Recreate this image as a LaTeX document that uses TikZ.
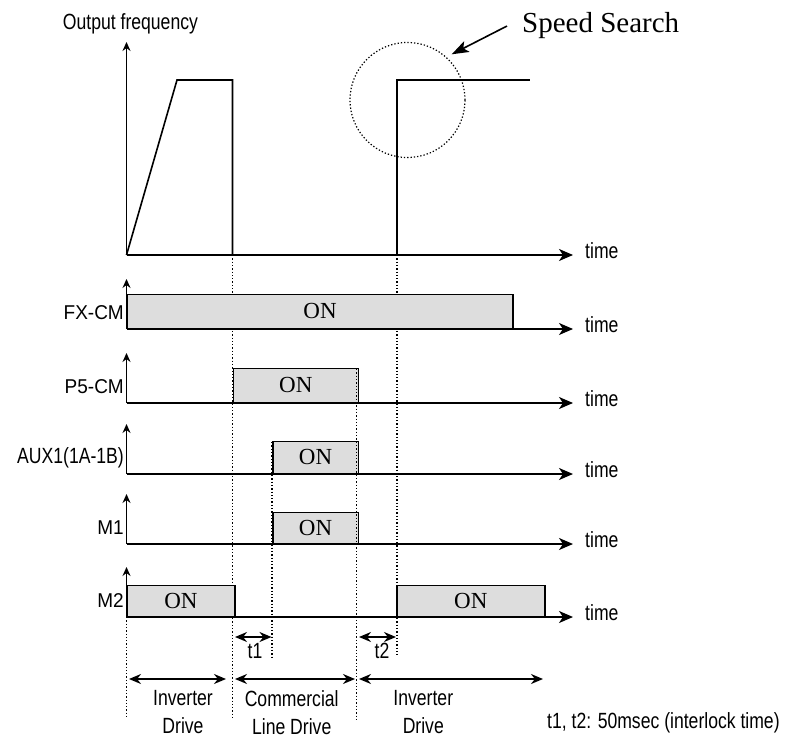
\documentclass[tikz,border=0pt]{standalone}
\usepackage{fontspec}
\setmainfont{Liberation Serif}
\newfontfamily\narrowsans[FakeStretch=0.8]{Liberation Sans}
\newfontfamily\rowsans[FakeStretch=0.95]{Liberation Sans}
\usepackage{tikz}
\usetikzlibrary{arrows.meta, positioning}
\definecolor{boxgray}{HTML}{DDDDDD}
\newcommand\lblfont{\narrowsans\fontsize{22}{28}\selectfont}
\newcommand\rowfont{\rowsans\fontsize{20}{24}\selectfont}
\newcommand\onfont{\fontsize{23}{26}\selectfont}
\newcommand\searchfont{\fontsize{29}{32}\selectfont}

\begin{document}
\begin{tikzpicture}[x=1pt, y=-1pt,
        sig/.style={line width=1.6pt},
        yax/.style={line width=1.6pt, -{Stealth[length=9pt,width=8pt,inset=3pt]}},
        tax/.style={line width=1.6pt, -{Stealth[length=14pt,width=12pt,inset=4pt]}},
        span/.style={line width=1.6pt, {Stealth[length=12pt,width=10pt]}-{Stealth[length=12pt,width=10pt]}},
        guide/.style={line width=1.2pt, dash pattern=on 1.3pt off 2pt},
        onbox/.style={draw, line width=1.5pt, fill=boxgray, font=\onfont, inner sep=0pt, anchor=south west},
        lbl/.style={font=\lblfont, inner sep=0pt}]
        \useasboundingbox (0,0) rectangle (786,738);

        % output frequency
        \coordinate (fo) at (126.5,255);
        \node[lbl, anchor=base west] at (62.7,30)   (freqlbl) {Output frequency};
        \node[lbl, anchor=base west] at (585,258)   (freqtime) {time};
        \draw [yax] (fo) -- ++(0,-213);
        \draw [tax] (fo) -- (573,255);
        \draw [sig] (fo) -- (177,80) -- (232.5,80) -- (232.5,255);
        \draw [sig] (397,255) -- (397,80) -- (530,80);

        % speed search
        \node[circle, draw, guide, minimum size=115pt, inner sep=0pt] at (407.5,100)   (search) {};
        \node[font=\searchfont, anchor=base west, inner sep=0pt] at (522,33)   (sstext) {Speed Search};
        \coordinate (sstip) at (451.7,54.3);
        \draw [line width=1.6pt, -{Stealth[length=17pt,width=12pt,inset=4pt]}] ([xshift=-15pt]sstext.west) -- (sstip);

        % guides below the boxes
        \draw [guide] (126.5,617) -- (126.5,718);
        \draw [guide] (232.5,255) -- (232.5,718);
        \draw [guide] (272,442) -- (272,657);
        \draw [guide] (397,255) -- (397,655);

        % signal rows
        \foreach \r/\y/\t/\f in {fx/329/FX-CM/\rowfont, pfive/403/P5-CM/\rowfont, aux/474/AUX1(1A-1B)/\lblfont, mone/544/M1/\rowfont, mtwo/617/M2/\rowfont} {
            \coordinate (\r o) at (126.5,\y);
            \draw [yax] (\r o) -- ++(0,-50);
            \draw [tax] (\r o) -- ++(446.5,0);
            \node[lbl, font=\f, anchor=east] at (124,\y-16.5)   (\r lbl) {\t};
            \node[lbl, anchor=base west] at (585,\y+3)   (\r time) {time};
        }

        \node[onbox, minimum width=385.5pt, minimum height=34pt] at (fxo)   (fxon) {ON};
        \node[onbox, minimum width=125pt, minimum height=34pt] at (232.5,403)   (pfiveon) {ON};
        \node[onbox, minimum width=85.5pt, minimum height=32pt] at (272,474)   (auxon) {ON};
        \node[onbox, minimum width=85.5pt, minimum height=31pt] at (272,544)   (moneon) {ON};
        \node[onbox, minimum width=107.5pt, minimum height=31pt] at (mtwoo)   (mtwoa) {ON};
        \node[onbox, minimum width=148pt, minimum height=31pt] at (396,617)   (mtwob) {ON};

        % guide over the boxes
        \draw [guide] (356.5,369) -- (356.5,720);

        % interlock times and drive spans
        \draw [span] (235,637) -- (271.5,637);
        \draw [span] (359,637) -- (396,637);
        \node[lbl, anchor=base] at (255,658)   (tone) {t1};
        \node[lbl, anchor=base] at (382,658)   (ttwo) {t2};

        \draw [span] (129,679) -- (226,679);
        \draw [span] (235,679) -- (355,679);
        \draw [span] (359,679) -- (543,679);
        \node[lbl, anchor=north, align=center] at (183,690)   (invone) {Inverter\\Drive};
        \node[lbl, anchor=north, align=center] at (291.7,690)   (comm) {Commercial\\Line Drive};
        \node[lbl, anchor=north, align=center] at (423.3,690)   (invtwo) {Inverter\\Drive};

        \node[lbl, anchor=base west] at (547,728)   (note) {t1, t2: 50msec (interlock time)};
    \end{tikzpicture}
\end{document}
